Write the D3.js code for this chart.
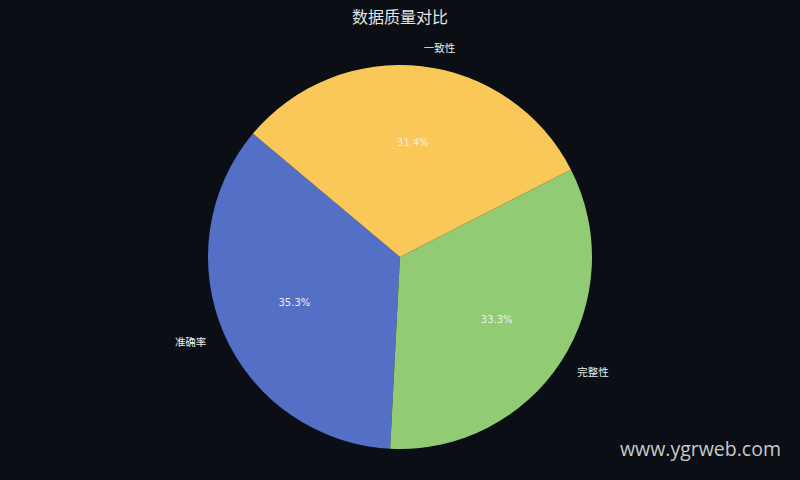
<!DOCTYPE html>
<html><head><meta charset="utf-8">
<script src="https://cdn.jsdelivr.net/npm/d3@7"></script>
<style>
html,body{margin:0;padding:0;background:#0b0e14;}
svg{display:block;}
</style></head>
<body>
<svg id="chart" width="800" height="480"></svg>
<script>
const title = "数据质量对比";
const categories = ["准确率", "完整性", "一致性"];
const values = [90, 85, 80];
const colors = ["#5470c6", "#91cc75", "#fac858"];
const watermark = "www.ygrweb.com";

const W = 800, H = 480;
const cx = 400, cy = 257, R = 192;
const svg = d3.select("#chart");
svg.append("rect").attr("width", W).attr("height", H).attr("fill", "#0b0e14");

svg.append("text").attr("x", W/2).attr("y", 23).attr("text-anchor", "middle")
  .attr("font-family", "'Noto Sans CJK SC', sans-serif").attr("font-size", 16)
  .attr("fill", "#e6e6e6").text(title);

const startDeg = 310;
const pie = d3.pie().sort(null).value(d => d)
  .startAngle(startDeg * Math.PI / 180)
  .endAngle((startDeg - 360) * Math.PI / 180);
const arcs = pie(values);
const arc = d3.arc().innerRadius(0).outerRadius(R);
const g = svg.append("g").attr("transform", `translate(${cx},${cy})`);
g.selectAll("path").data(arcs).enter().append("path")
  .attr("d", arc).attr("fill", (d, i) => colors[i]);

const total = d3.sum(values);
function pos(d, k) {
  const a = (d.startAngle + d.endAngle) / 2;
  return [k * R * Math.sin(a), -k * R * Math.cos(a)];
}
g.selectAll("text.pct").data(arcs).enter().append("text")
  .attr("class", "pct")
  .attr("x", d => pos(d, 0.6)[0]).attr("y", d => pos(d, 0.6)[1])
  .attr("text-anchor", "middle").attr("dominant-baseline", "central")
  .attr("font-family", "'DejaVu Sans', sans-serif").attr("font-size", 10)
  .attr("fill", "#eeeeee")
  .text(d => (d.value / total * 100).toFixed(1) + "%");
g.selectAll("text.lab").data(arcs).enter().append("text")
  .attr("class", "lab")
  .attr("x", d => pos(d, 1.1)[0]).attr("y", d => pos(d, 1.1)[1])
  .attr("text-anchor", d => pos(d, 1.1)[0] < 0 ? "end" : "start")
  .attr("dominant-baseline", "central")
  .attr("font-family", "'Noto Sans CJK SC', sans-serif").attr("font-size", 10.5)
  .attr("fill", "#eeeeee")
  .text((d, i) => categories[i]);

svg.append("text").attr("x", 781).attr("y", 456).attr("text-anchor", "end")
  .attr("font-family", "'Open Sans', sans-serif").attr("font-size", 19.5)
  .attr("fill", "#dddddd").attr("opacity", 0.9).text(watermark);
</script>
</body></html>
